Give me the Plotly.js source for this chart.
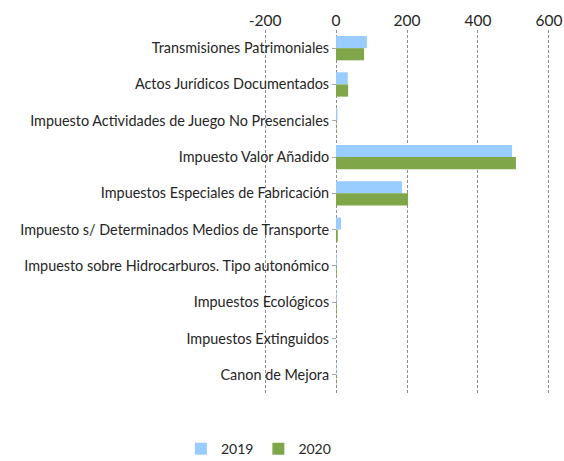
<!DOCTYPE html>
<html>
<head>
<meta charset="utf-8">
<script src="https://cdn.plot.ly/plotly-3.0.1.min.js"></script>
<style>html,body{margin:0;padding:0;background:#fff;}#chart{width:564px;height:461px;}</style>
</head>
<body>
<div id="chart"></div>
<script>
const categories = [
  "Transmisiones Patrimoniales",
  "Actos Jurídicos Documentados",
  "Impuesto Actividades de Juego No Presenciales",
  "Impuesto Valor Añadido",
  "Impuestos Especiales de Fabricación",
  "Impuesto s/ Determinados Medios de Transporte",
  "Impuesto sobre Hidrocarburos. Tipo autonómico",
  "Impuestos Ecológicos",
  "Impuestos Extinguidos",
  "Canon de Mejora"
];
const values2019 = [87, 33, 4, 496, 186, 14, 2, 2, 0, 1];
const values2020 = [79, 34, 1, 507, 203, 5, 2, 2, 0, 1];
const xTicks = [-200, 0, 200, 400, 600];

const W = 564, mL = 10, mR = 14;
const plotLeftPx = 264, zeroPx = 336;
const paperW = W - mL - mR;
const domStart = (plotLeftPx - mL) / paperW;
const yPos = (zeroPx - mL) / paperW;

const fam = "Lato, 'Open Sans', sans-serif";

const traces = [
  {type: "bar", orientation: "h", name: "2019", y: categories, x: values2019,
   marker: {color: "#99CCFF"}},
  {type: "bar", orientation: "h", name: "2020", y: categories, x: values2020,
   marker: {color: "#7FA648"}}
];

const layout = {
  width: 564, height: 461,
  margin: {l: mL, r: mR, t: 30, b: 68, autoexpand: false},
  paper_bgcolor: "#fff", plot_bgcolor: "#fff",
  font: {family: fam, size: 14, color: "#262626"},
  barmode: "group",
  bargap: 0.33,
  bargroupgap: 0,
  showlegend: true,
  legend: {orientation: "h", x: 0.46, xanchor: "center", y: -0.155, yanchor: "middle",
           font: {family: fam, size: 14, color: "#262626"}, traceorder: "normal",
           itemwidth: 30},
  xaxis: {
    side: "top", range: [-203, 603], tickvals: xTicks, ticktext: xTicks.map(String),
    domain: [domStart, 1],
    showgrid: true, gridcolor: "#8c8c8c", griddash: "3px,2px", gridwidth: 1,
    zeroline: false, showline: false, ticks: "",
    tickfont: {family: fam, size: 15.5, color: "#262626"},
    automargin: false,
    fixedrange: true
  },
  yaxis: {
    type: "category", categoryorder: "array", categoryarray: categories,
    autorange: "reversed",
    anchor: "free", position: yPos,
    showgrid: false, zeroline: false, showline: false,
    ticks: "outside", ticklen: 4, tickcolor: "#a6a6a6",
    automargin: false,
    tickfont: {family: fam, size: 14.4, color: "#262626"},
    fixedrange: true
  }
};

Plotly.newPlot("chart", traces, layout, {displayModeBar: false, staticPlot: true});
</script>
</body>
</html>
